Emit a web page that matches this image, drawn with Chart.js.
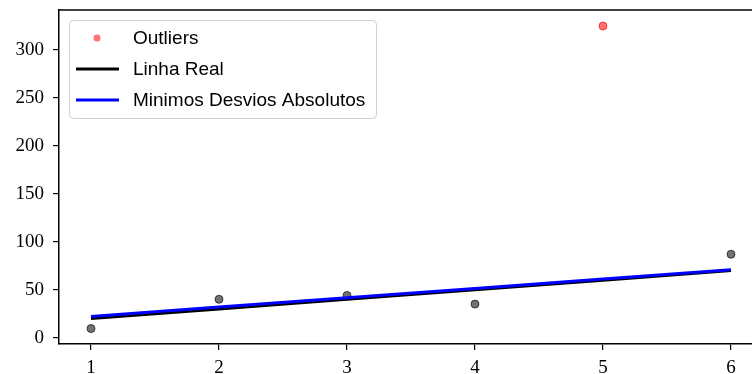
<!DOCTYPE html>
<html>
<head>
<meta charset="utf-8">
<script src="https://cdn.jsdelivr.net/npm/chart.js@4.4.1/dist/chart.umd.min.js"></script>
<style>
  html, body { margin: 0; padding: 0; overflow: hidden; background: #fff; }
  #wrap { position: absolute; left: 0; top: 0; width: 800px; height: 374px; }
</style>
</head>
<body>
<div id="wrap"><canvas id="grafico"></canvas></div>
<script>
// dados
const xValores = [1, 2, 3, 4, 5, 6];
const yObservado = [9.5, 40, 44, 35, 325, 87];
const indiceOutlier = 4;
const linhaReal = [20, 30, 40, 50, 60, 70];
const linhaLAD = [22.2, 31.9, 41.6, 51.4, 61.1, 70.8];
const xTicks = [1, 2, 3, 4, 5, 6];
const yTicks = [0, 50, 100, 150, 200, 250, 300];

const pontosNormais = [];
const pontosOutlier = [];
xValores.forEach((x, i) => {
    if (i === indiceOutlier) pontosOutlier.push({x: x, y: yObservado[i]});
    else pontosNormais.push({x: x, y: yObservado[i]});
});
const toXY = arr => arr.map((y, i) => ({x: xValores[i], y: y}));

const serif = '"Liberation Serif", "DejaVu Serif", serif';
const sans = '"Liberation Sans", Arial, sans-serif';

// legenda dentro do gráfico, estilo matplotlib
const legendaInterna = {
    id: 'legendaInterna',
    afterDraw(chart) {
        const ctx = chart.ctx;
        const area = chart.chartArea;
        ctx.save();
        // eixo superior
        ctx.strokeStyle = '#000';
        ctx.lineWidth = 1.5;
        ctx.beginPath();
        ctx.moveTo(area.left, area.top);
        ctx.lineTo(area.right, area.top);
        ctx.stroke();

        const bx = 69, by = 20, bw = 307, bh = 98, r = 4;
        ctx.fillStyle = 'rgba(255,255,255,0.8)';
        ctx.strokeStyle = '#d0d0d0';
        ctx.lineWidth = 1;
        ctx.beginPath();
        ctx.roundRect(bx + 0.5, by + 0.5, bw, bh, r);
        ctx.fill();
        ctx.stroke();

        const itens = chart.data.datasets.filter(d => d.label);
        const ordem = ['Outliers', 'Linha Real', 'Minimos Desvios Absolutos'];
        ctx.font = '19px ' + sans;
        ctx.textBaseline = 'middle';
        ordem.forEach((nome, i) => {
            const ds = itens.find(d => d.label === nome);
            const yy = 38 + i * 31;
            if (ds.showLine) {
                ctx.strokeStyle = ds.borderColor;
                ctx.lineWidth = 3;
                ctx.beginPath();
                ctx.moveTo(76, yy);
                ctx.lineTo(119, yy);
                ctx.stroke();
            } else {
                ctx.fillStyle = ds.backgroundColor;
                ctx.beginPath();
                ctx.arc(97, yy, 3.5, 0, Math.PI * 2);
                ctx.fill();
            }
            ctx.fillStyle = '#000';
            ctx.fillText(nome, 133, yy + 1);
        });
        ctx.restore();
    }
};

new Chart(document.getElementById('grafico'), {
    type: 'scatter',
    data: {
        datasets: [
            {
                label: 'Minimos Desvios Absolutos',
                data: toXY(linhaLAD),
                showLine: true,
                borderColor: '#0000ff',
                borderWidth: 3,
                pointRadius: 0,
                order: 0
            },
            {
                label: 'Linha Real',
                data: toXY(linhaReal),
                showLine: true,
                borderColor: '#000000',
                borderWidth: 3,
                pointRadius: 0,
                order: 1
            },
            {
                label: 'Outliers',
                data: pontosOutlier,
                backgroundColor: 'rgba(255,0,0,0.55)',
                borderColor: 'rgba(255,0,0,0.65)',
                borderWidth: 1,
                pointRadius: 4,
                order: 2
            },
            {
                label: '',
                data: pontosNormais,
                backgroundColor: 'rgba(0,0,0,0.55)',
                borderColor: 'rgba(0,0,0,0.65)',
                borderWidth: 1,
                pointRadius: 4,
                order: 3
            }
        ]
    },
    options: {
        responsive: true,
        maintainAspectRatio: false,
        animation: false,
        layout: { padding: { top: 10, right: 37, left: 0, bottom: 0 } },
        plugins: { legend: { display: false }, tooltip: { enabled: false } },
        scales: {
            x: {
                type: 'linear',
                min: 0.75,
                max: 6.25,
                afterBuildTicks: s => { s.ticks = xTicks.map(v => ({value: v})); },
                afterFit: s => { s.height = 30; s.paddingLeft = 0; s.paddingRight = 0; },
                grid: { drawOnChartArea: false, drawTicks: true, tickLength: 6, color: '#000', lineWidth: 1.2 },
                border: { display: true, color: '#000', width: 1.5 },
                ticks: { color: '#000', padding: 7, font: { family: serif, size: 19 }, maxRotation: 0 }
            },
            y: {
                type: 'linear',
                min: -6.6,
                max: 341.7,
                afterBuildTicks: s => { s.ticks = yTicks.map(v => ({value: v})); },
                afterFit: s => { s.width = 59; s.paddingTop = 0; s.paddingBottom = 0; },
                grid: { drawOnChartArea: false, drawTicks: true, tickLength: 6, color: '#000', lineWidth: 1.2 },
                border: { display: true, color: '#000', width: 1.5 },
                ticks: { color: '#000', padding: 9, font: { family: serif, size: 19 } }
            }
        }
    },
    plugins: [legendaInterna]
});
</script>
</body>
</html>
